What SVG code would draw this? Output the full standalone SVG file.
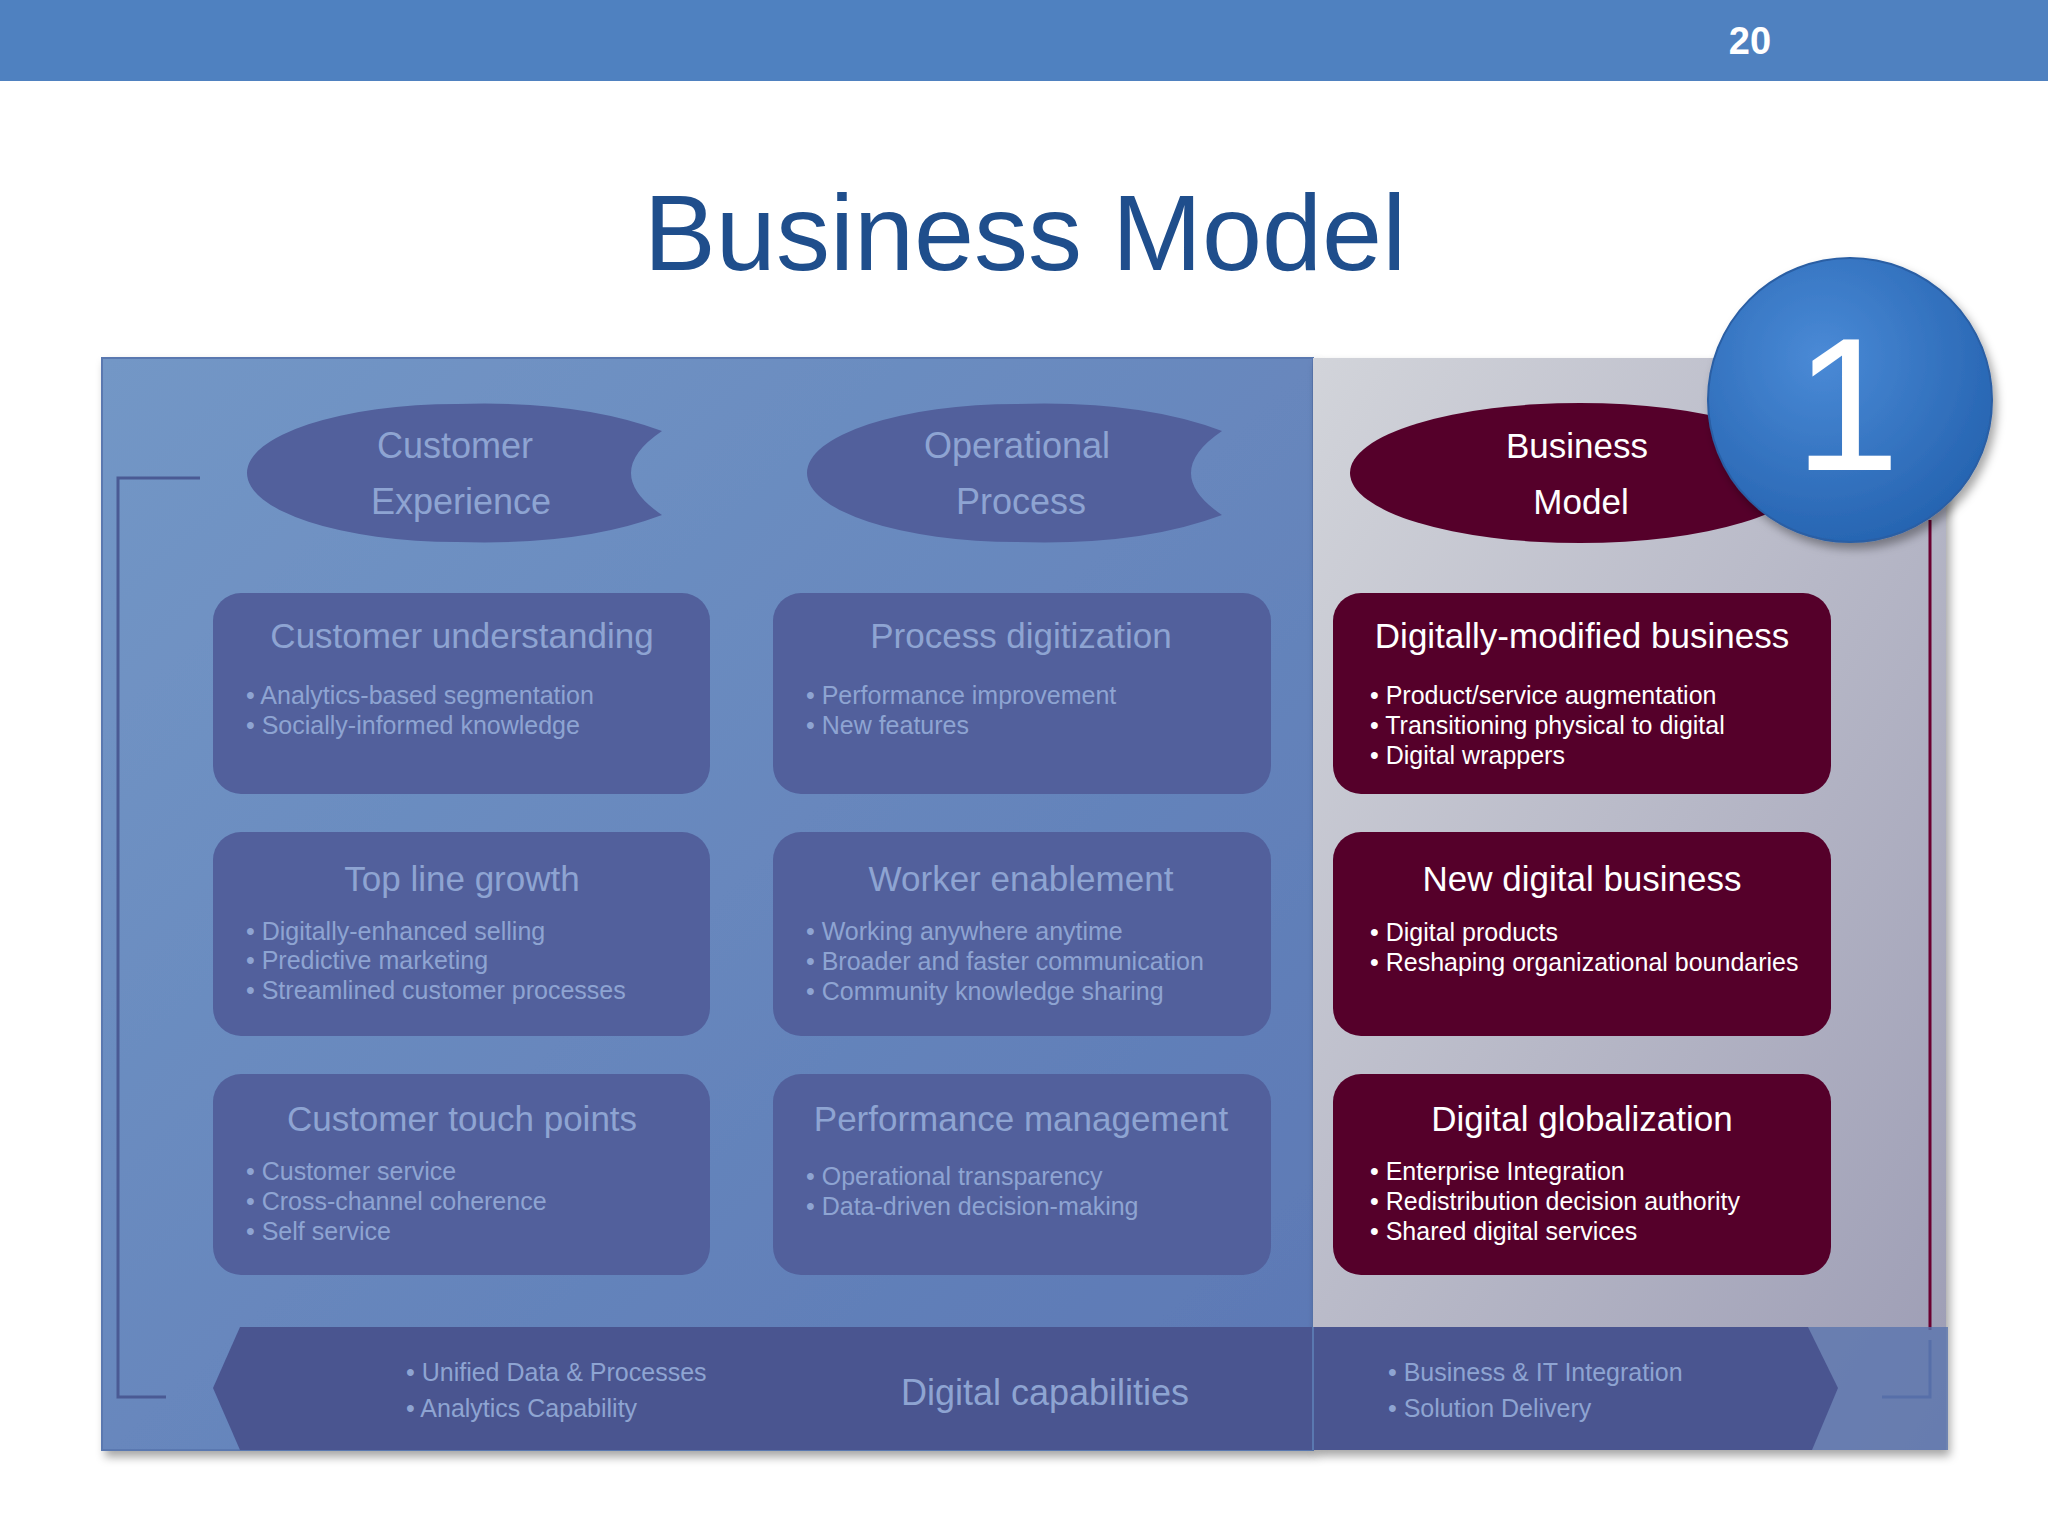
<svg xmlns="http://www.w3.org/2000/svg" width="2048" height="1536" viewBox="0 0 2048 1536">
<defs>
<linearGradient id="gl" x1="0" y1="0" x2="1" y2="1"><stop offset="0" stop-color="#7397c6"/><stop offset="1" stop-color="#5b77b4"/></linearGradient>
<linearGradient id="gr" x1="0" y1="0" x2="1" y2="1"><stop offset="0" stop-color="#d2d4da"/><stop offset="1" stop-color="#9c9cb4"/></linearGradient>
<radialGradient id="gc" cx="0.4" cy="0.35" r="0.7"><stop offset="0" stop-color="#4a8ad6"/><stop offset="1" stop-color="#2563b0"/></radialGradient>
<filter id="sh" x="-20%" y="-20%" width="140%" height="140%"><feDropShadow dx="4" dy="6" stdDeviation="5" flood-opacity="0.35"/></filter>
</defs>
<style>
text{font-family:"Liberation Sans",Arial,sans-serif}
.fb{fill:#52609c}
.ft{fill:#8ea4d2;font-size:35px;text-anchor:middle}
.fbul{fill:#8ea4d2;font-size:25px}
.mb{fill:#55002a}
.mt{fill:#fff;font-size:35px;text-anchor:middle}
.mbul{fill:#fff;font-size:25px}
.el{fill:#8ea4d2;font-size:36px;text-anchor:middle}
</style>
<rect x="0" y="0" width="2048" height="81" fill="#4f81c0"/>
<text x="1750" y="54" font-size="38" font-weight="bold" fill="#fff" text-anchor="middle">20</text>
<text x="1025" y="270" font-size="108" fill="#1f4e8c" text-anchor="middle">Business Model</text>

<rect x="102" y="358" width="1211" height="1092" fill="url(#gl)" stroke="#5a78b0" stroke-width="2" filter="url(#sh)"/>
<rect x="1313" y="358" width="633" height="1092" fill="url(#gr)" filter="url(#sh)"/>
<line x1="1930" y1="520" x2="1930" y2="1330" stroke="#6a0030" stroke-width="3"/>

<g id="connectors" fill="none" stroke="#4a5a94" stroke-width="3">
<path d="M200 478 H118 V1397 H166"/>
<path d="M1882 1397 H1930 V1340"/>
</g>

<g id="customer-experience">
<path class="fb" d="M662 431 Q580 400 457 404 A210 69 0 0 0 457 542 Q580 546 662 515 Q600 473 662 431 Z"/>
<text class="el" x="455" y="458">Customer</text><text class="el" x="461" y="514">Experience</text>
</g>
<g id="operational-process">
<path class="fb" d="M1222 431 Q1140 400 1017 404 A210 69 0 0 0 1017 542 Q1140 546 1222 515 Q1160 473 1222 431 Z"/>
<text class="el" x="1017" y="458">Operational</text><text class="el" x="1021" y="514">Process</text>
</g>
<g id="business-model-ellipse">
<ellipse class="mb" cx="1580" cy="473" rx="230" ry="70"/>
<text class="mt" x="1577" y="458" font-size="36">Business</text><text class="mt" x="1581" y="514" font-size="36">Model</text>
</g>

<g id="customer-understanding"><rect class="fb" x="213" y="593" width="497" height="201" rx="28"/>
<text class="ft" x="462" y="648">Customer understanding</text>
<text class="fbul" x="246" y="704">• Analytics-based segmentation</text><text class="fbul" x="246" y="734">• Socially-informed knowledge</text></g>
<g id="process-digitization"><rect class="fb" x="773" y="593" width="498" height="201" rx="28"/>
<text class="ft" x="1021" y="648">Process digitization</text>
<text class="fbul" x="806" y="704">• Performance improvement</text><text class="fbul" x="806" y="734">• New features</text></g>
<g id="digitally-modified"><rect class="mb" x="1333" y="593" width="498" height="201" rx="28"/>
<text class="mt" x="1582" y="648">Digitally-modified business</text>
<text class="mbul" x="1370" y="704">• Product/service augmentation</text><text class="mbul" x="1370" y="734">• Transitioning physical to digital</text><text class="mbul" x="1370" y="764">• Digital wrappers</text></g>

<g id="top-line-growth"><rect class="fb" x="213" y="832" width="497" height="204" rx="28"/>
<text class="ft" x="462" y="891">Top line growth</text>
<text class="fbul" x="246" y="940">• Digitally-enhanced selling</text><text class="fbul" x="246" y="969">• Predictive marketing</text><text class="fbul" x="246" y="999">• Streamlined customer processes</text></g>
<g id="worker-enablement"><rect class="fb" x="773" y="832" width="498" height="204" rx="28"/>
<text class="ft" x="1021" y="891">Worker enablement</text>
<text class="fbul" x="806" y="940">• Working anywhere anytime</text><text class="fbul" x="806" y="970">• Broader and faster communication</text><text class="fbul" x="806" y="1000">• Community knowledge sharing</text></g>
<g id="new-digital-business"><rect class="mb" x="1333" y="832" width="498" height="204" rx="28"/>
<text class="mt" x="1582" y="891">New digital business</text>
<text class="mbul" x="1370" y="941">• Digital products</text><text class="mbul" x="1370" y="971">• Reshaping organizational boundaries</text></g>

<g id="customer-touch-points"><rect class="fb" x="213" y="1074" width="497" height="201" rx="28"/>
<text class="ft" x="462" y="1131">Customer touch points</text>
<text class="fbul" x="246" y="1180">• Customer service</text><text class="fbul" x="246" y="1210">• Cross-channel coherence</text><text class="fbul" x="246" y="1240">• Self service</text></g>
<g id="performance-management"><rect class="fb" x="773" y="1074" width="498" height="201" rx="28"/>
<text class="ft" x="1021" y="1131">Performance management</text>
<text class="fbul" x="806" y="1185">• Operational transparency</text><text class="fbul" x="806" y="1215">• Data-driven decision-making</text></g>
<g id="digital-globalization"><rect class="mb" x="1333" y="1074" width="498" height="201" rx="28"/>
<text class="mt" x="1582" y="1131">Digital globalization</text>
<text class="mbul" x="1370" y="1180">• Enterprise Integration</text><text class="mbul" x="1370" y="1210">• Redistribution decision authority</text><text class="mbul" x="1370" y="1240">• Shared digital services</text></g>

<g id="digital-capabilities">
<rect x="1313" y="1327" width="635" height="123" fill="#5a74ae" opacity="0.8"/>
<path d="M240 1327 H1808 L1838 1388 L1812 1450 H240 L213 1388 Z" fill="#4a5590"/>
<line x1="1313" y1="1327" x2="1313" y2="1450" stroke="#5a78b0" stroke-width="2"/>
<text x="1045" y="1405" font-size="36" fill="#8ea4d2" text-anchor="middle">Digital capabilities</text>
<text class="fbul" x="406" y="1381">•  Unified Data &amp; Processes</text><text class="fbul" x="406" y="1417">•  Analytics Capability</text>
<text class="fbul" x="1388" y="1381">•  Business &amp; IT Integration</text><text class="fbul" x="1388" y="1417">•  Solution Delivery</text>
</g>

<g id="badge-1" filter="url(#sh)">
<circle cx="1850" cy="400" r="142" fill="url(#gc)" stroke="#2a5ea4" stroke-width="2"/>
<text x="1847" y="470" font-size="190" fill="#fff" text-anchor="middle">1</text>
</g>
</svg>
